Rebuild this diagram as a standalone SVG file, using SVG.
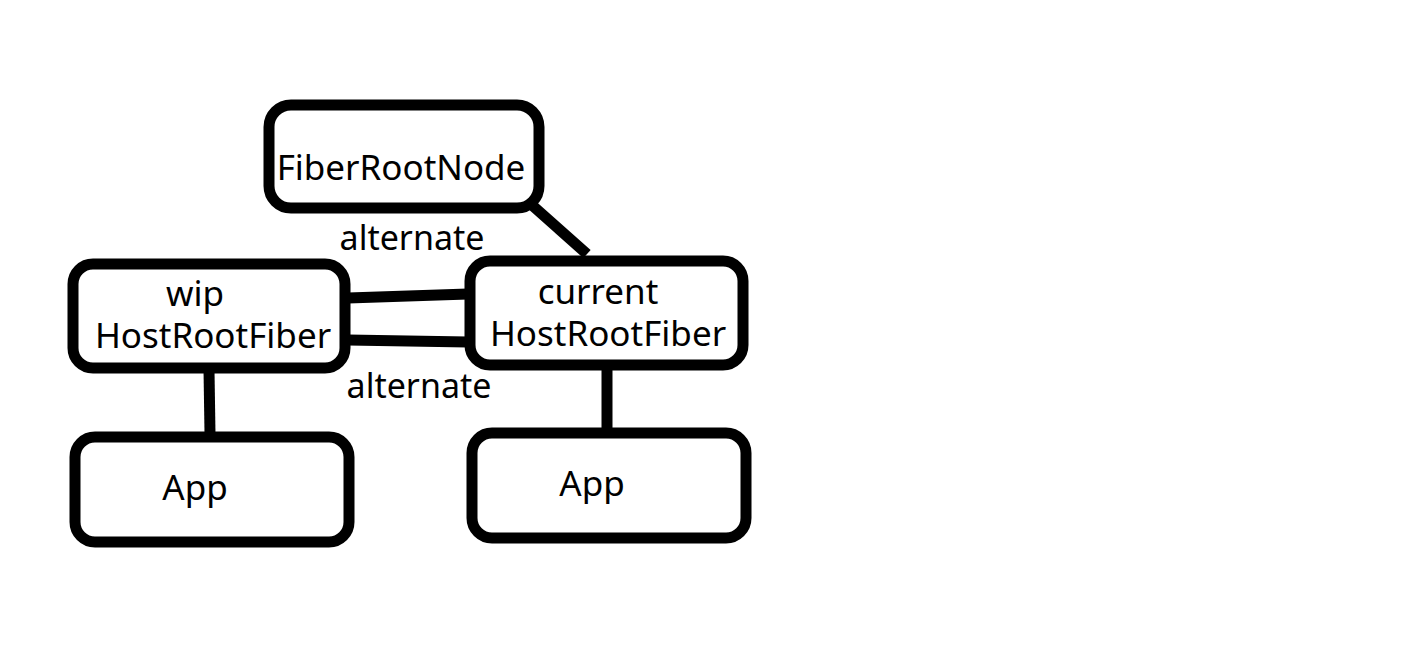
<svg xmlns="http://www.w3.org/2000/svg" width="1416" height="672" viewBox="0 0 1416 672">
<style>
.box{fill:#fff;stroke:#000;stroke-width:11}
.ln{stroke:#000;stroke-width:11;fill:none}
text{font-family:"Noto Sans","Open Sans",sans-serif;font-size:35px;fill:#000;text-anchor:middle}
.lbl{font-size:34px}
</style>
<rect width="1416" height="672" fill="#fff"/>
<g id="connectors">
<line class="ln" x1="533" y1="206" x2="587" y2="254"/>
<line class="ln" x1="348" y1="298" x2="468" y2="294"/>
<line class="ln" x1="348" y1="340" x2="468" y2="342"/>
<line class="ln" x1="209" y1="370" x2="210" y2="434"/>
<line class="ln" x1="607" y1="367" x2="607" y2="430"/>
<text class="lbl" x="412" y="250">alternate</text>
<text class="lbl" x="419" y="398">alternate</text>
</g>
<g id="fiberRootNode">
<rect class="box" x="269" y="105" width="270" height="103" rx="22"/>
<text x="401" y="180">FiberRootNode</text>
</g>
<g id="wipHostRootFiber">
<rect class="box" x="73" y="264" width="272" height="104" rx="20"/>
<text x="195" y="306">wip</text>
<text x="213" y="348">HostRootFiber</text>
</g>
<g id="currentHostRootFiber">
<rect class="box" x="470" y="261" width="273" height="104" rx="20"/>
<text x="598" y="304">current</text>
<text x="608" y="346">HostRootFiber</text>
</g>
<g id="appLeft">
<rect class="box" x="75" y="437" width="274" height="105" rx="20"/>
<text x="195" y="500">App</text>
</g>
<g id="appRight">
<rect class="box" x="472" y="433" width="274" height="105" rx="20"/>
<text x="592" y="496">App</text>
</g>
</svg>
